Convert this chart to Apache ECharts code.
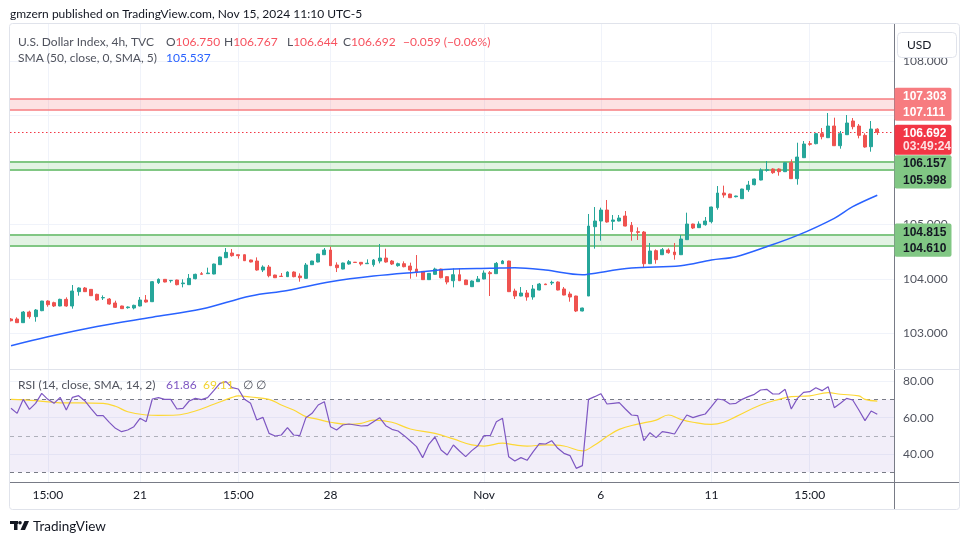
<!DOCTYPE html>
<html><head><meta charset="utf-8">
<script src="https://cdn.jsdelivr.net/npm/echarts@6/dist/echarts.min.js"></script>
<style>html,body{margin:0;padding:0;background:#fff}#c{width:970px;height:545px}</style>
</head><body><div id="c"></div>
<script>
// ---- DATA (4h bars, index 1..142) ----
const opens = [103.266,103.266,103.199,103.394,103.309,103.419,103.596,103.566,103.505,103.627,103.505,103.768,103.835,103.810,103.719,103.654,103.633,103.560,103.505,103.474,103.468,103.505,103.615,103.584,103.933,103.994,103.969,103.982,103.914,103.896,104.006,104.098,104.098,104.092,104.263,104.391,104.477,104.446,104.446,104.349,104.330,104.165,104.220,104.073,104.052,104.043,104.128,104.055,104.012,104.263,104.312,104.446,104.532,104.257,104.183,104.275,104.309,104.306,104.281,104.263,104.330,104.385,104.330,104.245,104.281,104.238,104.183,104.141,103.988,104.086,104.183,104.043,103.969,104.079,103.982,103.859,103.951,104.000,104.116,104.098,104.281,104.330,103.780,103.688,103.743,103.670,103.798,103.908,103.927,103.945,103.817,103.725,103.688,103.413,103.688,104.960,105.064,105.266,105.058,105.064,105.156,104.985,104.869,104.862,104.281,104.520,104.446,104.532,104.495,104.446,104.722,105.009,104.942,104.997,105.052,105.309,105.578,105.559,105.510,105.474,105.639,105.731,105.816,105.994,106.018,106.018,105.969,106.134,105.841,106.226,106.483,106.483,106.667,106.593,106.807,106.446,106.648,106.899,106.807,106.636,106.428,106.750];
const closes = [103.235,103.199,103.394,103.309,103.431,103.596,103.529,103.505,103.627,103.505,103.780,103.835,103.768,103.694,103.615,103.660,103.541,103.480,103.456,103.486,103.517,103.615,103.578,103.951,103.994,103.945,103.975,103.896,103.927,104.012,104.086,104.086,104.110,104.275,104.404,104.489,104.428,104.428,104.336,104.312,104.165,104.220,104.061,104.024,104.046,104.128,104.043,104.024,104.257,104.330,104.459,104.532,104.245,104.208,104.294,104.318,104.303,104.275,104.290,104.349,104.385,104.312,104.275,104.281,104.226,104.165,104.122,103.988,104.104,104.183,104.024,103.945,104.079,103.969,103.896,103.963,104.000,104.110,104.098,104.287,104.330,103.768,103.688,103.743,103.670,103.817,103.908,103.896,103.939,103.798,103.706,103.670,103.413,103.468,104.972,105.064,105.266,105.046,105.083,105.119,104.972,104.869,104.856,104.281,104.514,104.355,104.538,104.483,104.446,104.734,105.009,104.936,105.009,105.064,105.321,105.578,105.541,105.492,105.523,105.651,105.724,105.835,106.000,106.006,105.951,105.969,106.134,105.841,106.238,106.477,106.471,106.667,106.611,106.807,106.446,106.667,106.862,106.795,106.636,106.422,106.752,106.692];
const lows = [103.223,103.195,103.195,103.272,103.217,103.410,103.492,103.486,103.500,103.492,103.456,103.694,103.761,103.688,103.602,103.615,103.529,103.468,103.450,103.456,103.443,103.498,103.566,103.578,103.908,103.939,103.933,103.884,103.847,103.890,103.994,104.079,104.098,104.086,104.257,104.385,104.410,104.373,104.330,104.306,104.153,104.128,104.031,104.018,104.043,104.037,104.031,103.951,104.006,104.257,104.306,104.440,104.238,104.128,104.177,104.263,104.300,104.245,104.275,104.226,104.287,104.300,104.257,104.226,104.214,104.006,104.043,103.982,103.982,104.079,104.012,103.902,103.847,103.963,103.890,103.853,103.945,103.994,103.688,104.092,104.275,103.761,103.633,103.682,103.602,103.621,103.792,103.890,103.890,103.792,103.700,103.584,103.394,103.407,103.688,104.557,104.703,105.034,104.899,105.058,104.966,104.703,104.716,104.208,104.275,104.281,104.440,104.465,104.355,104.440,104.716,104.917,104.936,104.979,105.021,105.272,105.492,105.486,105.498,105.468,105.600,105.718,105.810,105.969,105.930,105.896,105.963,105.835,105.731,106.220,106.446,106.471,106.563,106.587,106.440,106.391,106.642,106.746,106.581,106.410,106.336,106.644];
const highs = [103.284,103.297,103.413,103.419,103.449,103.600,103.609,103.584,103.639,103.664,103.890,103.847,103.853,103.816,103.731,103.700,103.651,103.602,103.511,103.498,103.529,103.670,103.706,103.963,104.012,104.000,103.982,103.988,103.994,104.092,104.098,104.128,104.208,104.281,104.410,104.569,104.550,104.446,104.452,104.355,104.397,104.251,104.257,104.079,104.110,104.141,104.141,104.104,104.294,104.336,104.465,104.569,104.593,104.306,104.300,104.349,104.312,104.312,104.361,104.367,104.642,104.556,104.349,104.300,104.324,104.300,104.440,104.147,104.110,104.208,104.190,104.049,104.196,104.196,103.988,103.975,104.055,104.158,104.147,104.312,104.349,104.336,103.823,103.853,103.798,103.890,103.927,103.914,103.969,103.957,103.853,103.768,103.694,103.474,105.193,105.321,105.309,105.450,105.174,105.174,105.248,105.046,104.948,104.881,104.661,104.544,104.569,104.563,104.661,104.807,105.217,105.015,105.058,105.138,105.327,105.706,105.713,105.566,105.529,105.657,105.800,105.841,106.030,106.165,106.030,106.030,106.141,106.195,106.501,106.532,106.532,106.679,106.770,107.046,106.960,106.716,107.009,106.954,106.844,106.673,106.899,106.767];

// SMA(50) read at selected bars
const smaBar = [1,7,15,24,32,40,46,53,60,68,73,79,83,88,94,95,102,110,115,119,124,129,135,138,142];
const smaVal = [102.776,102.94,103.13,103.30,103.45,103.69,103.79,103.95,104.055,104.135,104.183,104.196,104.207,104.165,104.08,104.09,104.20,104.244,104.349,104.41,104.593,104.80,105.114,105.327,105.537];

// RSI(14) per bar
const rsi = [65.16,62.40,70.11,64.61,67.91,73.42,70.11,67.91,71.21,64.24,71.21,72.13,69.38,65.16,61.12,61.12,57.45,54.14,52.31,53.23,55.06,59.65,57.82,70.30,71.03,70.11,70.11,64.79,65.16,69.20,70.66,69.93,71.03,74.89,78.92,79.84,76.53,75.80,70.11,67.91,58.73,60.20,51.39,49.92,50.47,54.51,50.47,50.11,60.02,62.40,66.99,68.83,55.06,53.23,55.98,56.53,55.98,55.43,55.61,57.82,60.02,55.61,53.59,52.68,50.11,47.17,44.05,38.00,45.34,49.37,42.21,39.46,44.97,41.66,38.54,41.85,44.60,50.11,50.11,57.82,59.65,38.54,36.16,38.00,36.53,41.30,45.70,45.52,47.36,43.13,40.38,39.09,32.12,33.59,70.11,71.58,73.23,67.54,67.91,68.28,64.79,61.49,61.12,47.36,51.76,49.01,52.31,51.76,51.03,56.53,61.49,60.02,61.12,62.04,66.08,70.30,69.75,67.54,67.91,70.11,71.58,72.87,75.25,75.62,73.05,73.05,75.62,64.79,70.66,73.97,74.34,76.54,74.89,77.09,65.52,67.91,70.66,69.75,64.24,58.37,63.69,61.86];

// RSI smoothing (SMA 14) read at selected bars
const rsiMaBar = [1,5,9,12,16,18,20,23,25,28,31,34,37,38,40,43,45,47,49,51,53,56,58,60,63,66,70,73,76,78,81,83,85,88,91,94,96,98,100,103,106,108,110,112,115,117,119,123,126,128,131,134,136,139,140,142];
const rsiMaVal = [70.1,69.4,68.2,68.2,67.9,66.3,63.3,61.5,61.3,61.5,63.7,67.4,71.2,72.0,71.4,70.1,67.0,64.2,60.6,59.1,57.5,56.3,56.9,58.7,57.5,53.8,51.4,48.3,45.0,44.4,46.0,45.0,44.4,45.0,44.4,41.7,45.0,49.6,53.6,56.5,58.7,61.5,59.1,57.5,56.3,57.5,60.6,67.0,70.1,71.6,72.0,73.8,72.9,72.0,70.1,69.1];

// Zones and levels
const resistZone = [107.111, 107.303];
const supportZone1 = [105.998, 106.157];
const supportZone2 = [104.610, 104.815];
const lastClose = 106.692;

// Axis ticks
const priceTicks = [103,104,105,106,107,108];
const rsiTicks = [40,60,80];
const timeTickBar = [7,22,38,53,78,97,115,131];
const timeTickText = ['15:00','21','15:00','28','Nov','6','11','15:00'];

// ---- CHART ----
const FONT = 'Lato, "Noto Sans", sans-serif';
const chart = echarts.init(document.getElementById('c'), null, {renderer:'canvas'});
const candleData = opens.map((o,i)=>[i+1, o, closes[i], lows[i], highs[i]]);
const smaData = smaBar.map((b,i)=>[b, smaVal[i]]);
const rsiData = rsi.map((v,i)=>[i+1, v]);
const rsiMaData = rsiMaBar.map((b,i)=>[b, rsiMaVal[i]]);
const XMIN = 0.837, XMAX = 144.72;
const GRIDC = '#F0F3FA', AXC = '#787B86';

chart.setOption({
  animation:false,
  textStyle:{fontFamily:FONT},
  grid:[
    {left:10, top:24, width:884, height:345},
    {left:10, top:370, width:884, height:112}
  ],
  xAxis:[
    {type:'value', gridIndex:0, min:XMIN, max:XMAX,
     axisLine:{show:false}, axisTick:{show:false, customValues:timeTickBar},
     axisLabel:{show:false, customValues:timeTickBar},
     splitLine:{show:true, lineStyle:{color:GRIDC, width:1}}},
    {type:'value', gridIndex:1, min:XMIN, max:XMAX,
     axisLine:{show:true, onZero:false, lineStyle:{color:AXC, width:1}},
     axisTick:{show:false, customValues:timeTickBar},
     axisLabel:{customValues:timeTickBar, margin:7, color:'#131722', fontSize:12, fontFamily:FONT,
       formatter:(v)=>{const k=timeTickBar.indexOf(Math.round(v)); return k>=0?timeTickText[k]:'';}},
     splitLine:{show:true, lineStyle:{color:GRIDC, width:1}}}
  ],
  yAxis:[
    {type:'value', gridIndex:0, position:'right', min:102.349, max:108.679, scale:true,
     axisLine:{show:true, lineStyle:{color:AXC}}, axisTick:{show:false, customValues:priceTicks},
     axisLabel:{customValues:priceTicks, margin:9, color:'#50535E', fontSize:12, fontFamily:FONT,
       formatter:(v)=>v.toFixed(3)},
     splitLine:{show:true, lineStyle:{color:GRIDC, width:1}}},
    {type:'value', gridIndex:1, position:'right', min:24.59, max:86.27, scale:true,
     axisLine:{show:true, lineStyle:{color:AXC}}, axisTick:{show:false, customValues:rsiTicks},
     axisLabel:{customValues:rsiTicks, margin:9, color:'#50535E', fontSize:12, fontFamily:FONT,
       formatter:(v)=>v.toFixed(2)},
     splitLine:{show:true, lineStyle:{color:GRIDC, width:1}}}
  ],
  series:[
    {type:'candlestick', xAxisIndex:0, yAxisIndex:0, data:candleData,
     encode:{x:0, y:[1,2,3,4]}, barWidth:3.4, z:3,
     itemStyle:{color:'#26A69A', color0:'#EF5350', borderColor:'#26A69A', borderColor0:'#EF5350', borderWidth:1},
     markArea:{silent:true, z:1, label:{show:false},
       data:[
         [{yAxis:resistZone[0], itemStyle:{color:'rgba(247,124,128,0.22)'}},{yAxis:resistZone[1]}],
         [{yAxis:supportZone1[0], itemStyle:{color:'rgba(129,199,132,0.22)'}},{yAxis:supportZone1[1]}],
         [{yAxis:supportZone2[0], itemStyle:{color:'rgba(129,199,132,0.22)'}},{yAxis:supportZone2[1]}]
       ]},
     markLine:{silent:true, z:2, symbol:['none','none'], label:{show:false},
       data:[
         {yAxis:resistZone[0], lineStyle:{color:'#F77C80', width:1.6, type:'solid'}},
         {yAxis:resistZone[1], lineStyle:{color:'#F77C80', width:1.6, type:'solid'}},
         {yAxis:supportZone1[0], lineStyle:{color:'#81C784', width:2, type:'solid'}},
         {yAxis:supportZone1[1], lineStyle:{color:'#81C784', width:2, type:'solid'}},
         {yAxis:supportZone2[0], lineStyle:{color:'#81C784', width:2, type:'solid'}},
         {yAxis:supportZone2[1], lineStyle:{color:'#81C784', width:2, type:'solid'}},
         {yAxis:lastClose, lineStyle:{color:'#F23645', width:1, type:[1.5,2.5]}}
       ]}
    },
    {type:'line', xAxisIndex:0, yAxisIndex:0, data:smaData, smooth:0.35, symbol:'none', z:4,
     lineStyle:{color:'#2962FF', width:1.5}},
    {type:'line', xAxisIndex:1, yAxisIndex:1, data:rsiData, symbol:'none', z:4,
     lineStyle:{color:'#7E57C2', width:1.2},
     markArea:{silent:true, label:{show:false},
       data:[[{yAxis:30, itemStyle:{color:'rgba(126,87,194,0.1)'}},{yAxis:70}]]},
     markLine:{silent:true, z:2, symbol:['none','none'], label:{show:false},
       lineStyle:{color:AXC, width:1, type:[4,4]},
       data:[{yAxis:70},{yAxis:50, lineStyle:{color:'rgba(120,123,134,0.55)', type:[4,4]}},{yAxis:30}]}
    },
    {type:'line', xAxisIndex:1, yAxisIndex:1, data:rsiMaData, smooth:0.4, symbol:'none', z:3,
     lineStyle:{color:'#FDD835', width:1.2}}
  ]
});

// ---- overlays: legend texts, right scale labels, frame ----
const py = v => chart.convertToPixel({yAxisIndex:0}, v);
const G = [];
const Z = 100;
function txt(x,y,text,fill,size,extra){
  G.push(Object.assign({type:'text', x, y, z:Z, silent:true,
    style:Object.assign({text, fill, font:(size||12)+'px '+FONT, textVerticalAlign:'middle', textAlign:'left'}, extra||{})}));
}
function rect(x,y,w,h,fill,stroke,r){
  G.push({type:'rect', z:Z-1, silent:true, shape:{x,y,width:w,height:h,r:r||0},
    style:{fill:fill||'none', stroke:stroke||null, lineWidth:1}});
}
function line(x1,y1,x2,y2,c){
  G.push({type:'line', z:Z-2, silent:true, shape:{x1,y1,x2,y2}, style:{stroke:c, lineWidth:1}});
}
// frame
rect(9.5,23.5,950,486,'none','#E0E3EB',3);
line(10,369.5,959,369.5,'#E0E3EB');
line(894.5,482,894.5,509,AXC);
line(894,482.5,959,482.5,AXC);

txt(10,14,'gmzern published on TradingView.com, Nov 15, 2024 11:10 UTC-5','#131722',12);
const grey='#50535E', red='#F7525F';
txt(18,42,'U.S. Dollar Index, 4h, TVC',grey,12);
const ohlc=[['O','106.750',166],['H','106.767',224],['L','106.644',287],['C','106.692',343]];
ohlc.forEach(([k,v,x])=>G.push({type:'text',x,y:42,z:Z,silent:true,style:{text:'{g|'+k+'}{r|'+v+'}',textVerticalAlign:'middle',font:'12px '+FONT,
  rich:{g:{fill:grey,font:'12px '+FONT},r:{fill:red,font:'12px '+FONT}}}}));
txt(403,42,'\u22120.059 (\u22120.06%)',red,12);
txt(18,58,'SMA (50, close, 0, SMA, 5)',grey,12);
txt(166,58,'105.537','#2962FF',12);
txt(18,385,'RSI (14, close, SMA, 14, 2)',grey,12);
txt(166,385,'61.86','#7E57C2',12);
txt(203,385,'69.11','#F2D230',12);
txt(243,385,'\u2205',grey,12);
txt(256,385,'\u2205',grey,12);

// USD box
rect(897.5,32.5,59,25,'#fff','#E0E3EB',4);
txt(907,45,'USD','#131722',12);

// price scale boxes
const ROW=16.6, BX=894.5, BW=57, TX=903;
function box2(top,vals,fill,col){
  rect(BX,top,BW,ROW*2,fill,null,2);
  txt(TX,top+ROW/2+0.5,vals[0].toFixed(3),col,12.5,{fontWeight:'bold'});
  txt(TX,top+ROW*1.5+0.5,vals[1].toFixed(3),col,12.5,{fontWeight:'bold'});
  return top+ROW*2;
}
let c1=(py(resistZone[1])+py(resistZone[0]))/2;
box2(c1-ROW,[resistZone[1],resistZone[0]],'#F77C80','#ffffff');
const pc=py(lastClose);
const curTop=pc-7.5, curBot=curTop+30;
rect(BX,curTop,BW,30,'#F23645',null,2);
txt(TX,curTop+9,lastClose.toFixed(3),'#ffffff',12.5,{fontWeight:'bold'});
txt(TX,curTop+22,'03:49:24','rgba(255,255,255,0.85)',12.5,{fontWeight:'bold'});
let c2=(py(supportZone1[1])+py(supportZone1[0]))/2;
box2(Math.max(c2-ROW,curBot+0.5),[supportZone1[1],supportZone1[0]],'#81C784','#131722');
let c3=(py(supportZone2[1])+py(supportZone2[0]))/2;
box2(c3-ROW,[supportZone2[1],supportZone2[0]],'#81C784','#131722');

// TradingView logo
G.push({type:'rect',z:Z,silent:true,shape:{x:10,y:521,width:8,height:3},style:{fill:'#131722'}});
G.push({type:'rect',z:Z,silent:true,shape:{x:14,y:521,width:3.5,height:9},style:{fill:'#131722'}});
G.push({type:'circle',z:Z,silent:true,shape:{cx:20,cy:522.8,r:1.8},style:{fill:'#131722'}});
G.push({type:'polygon',z:Z,silent:true,shape:{points:[[24.5,521],[29,521],[25,530],[20.5,530]]},style:{fill:'#131722'}});
txt(33,526.5,'TradingView','#131722',13.5);

chart.setOption({graphic:G});
</script></body></html>
